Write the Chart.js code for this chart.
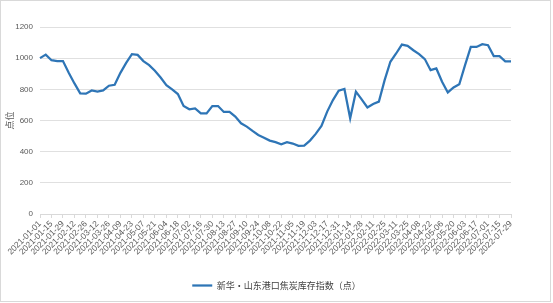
<!DOCTYPE html>
<html><head><meta charset="utf-8">
<script src="https://cdn.jsdelivr.net/npm/chart.js@4/dist/chart.umd.min.js"></script>
<style>
html,body{margin:0;padding:0;background:#fff;}
#wrap{position:absolute;left:0;top:0;width:553px;height:303px;}
#frame{position:absolute;left:0;top:0;width:549px;height:300px;border:1px solid #d9d9d9;pointer-events:none;}
</style></head>
<body>
<div id="wrap"><canvas id="c" width="553" height="303"></canvas><div id="frame"></div></div>
<script>
const seriesName = '新华・山东港口焦炭库存指数（点）';
const yTitle = '点位';
const yTicks = [0, 200, 400, 600, 800, 1000, 1200];
const values = [1000,1023,987,981,981,906,838,774,772,793,785,793,823,829,906,970,1026,1021,981,955,919,876,827,800,770,693,672,678,646,646,693,693,655,655,625,582,561,533,507,490,471,461,448,461,452,437,439,471,514,565,657,731,791,802,614,785,736,684,706,721,859,977,1030,1087,1079,1051,1026,994,923,934,849,780,812,832,955,1072,1072,1090,1083,1013,1013,979,979];
const startDate = '2021-01-01';
const categories = [];
(function(){
  const d0 = new Date(startDate + 'T00:00:00Z');
  for (let i = 0; i < values.length; i++) {
    const d = new Date(d0.getTime() + i * 7 * 86400000);
    categories.push(d.toISOString().slice(0,10));
  }
})();

new Chart(document.getElementById('c'), {
  type: 'line',
  data: {
    labels: categories,
    datasets: [{
      label: seriesName,
      data: values,
      borderColor: '#2e75b6',
      backgroundColor: '#2e75b6',
      borderWidth: 2.25,
      pointRadius: 0,
      tension: 0,
      fill: false
    }]
  },
  options: {
    responsive: false,
    animation: false,
    layout: { padding: { left: 0, right: 0, top: 27, bottom: 3 } },
    plugins: {
      legend: {
        position: 'bottom',
        labels: {
          usePointStyle: true,
          pointStyle: 'line',
          pointStyleWidth: 20,
          boxWidth: 20,
          color: '#404040',
          font: { family: '"Noto Sans CJK SC", sans-serif', size: 9 },
          padding: 8
        }
      },
      tooltip: { enabled: false }
    },
    scales: {
      x: {
        afterFit: axis => { axis.height = 59; },
        grid: {
          drawOnChartArea: false,
          drawTicks: true,
          tickLength: 4,
          color: ctx => (ctx.index % 2 === 0 ? '#d9d9d9' : 'rgba(0,0,0,0)')
        },
        border: { color: '#d9d9d9' },
        ticks: {
          autoSkip: false,
          maxRotation: 45,
          minRotation: 45,
          padding: 1,
          color: '#595959',
          font: { family: '"Liberation Sans", sans-serif', size: 8.5 },
          callback: function(v, i) { return i % 2 === 0 ? categories[i] : ''; }
        }
      },
      y: {
        min: 0, max: 1200,
        afterFit: axis => { axis.width = 40; },
        afterBuildTicks: axis => { axis.ticks = yTicks.map(v => ({ value: v })); },
        grid: { color: '#e0e0e0', drawTicks: false },
        border: { display: false },
        title: {
          display: true, text: yTitle, color: '#595959',
          font: { family: '"Noto Sans CJK SC", sans-serif', size: 9 }, padding: { top: 4, bottom: 0 }
        },
        ticks: {
          padding: 7,
          color: '#595959',
          font: { family: '"Liberation Sans", sans-serif', size: 8 },
          callback: v => String(v)
        }
      },
      yRight: {
        position: 'right',
        display: true,
        afterFit: axis => { axis.width = 42; },
        grid: { display: false, drawTicks: false },
        border: { display: false },
        ticks: { display: false }
      }
    }
  }
});
</script>
</body></html>
